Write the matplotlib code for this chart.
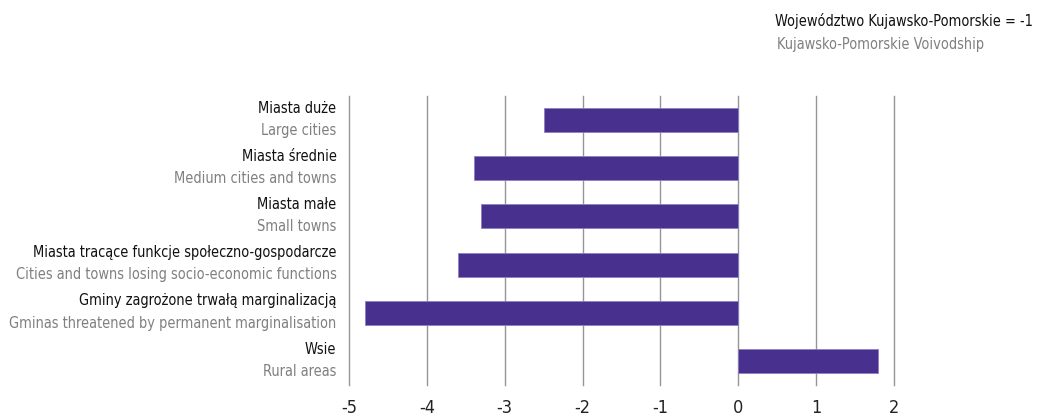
import matplotlib
matplotlib.use("Agg")
import matplotlib.pyplot as plt

plt.rcParams['font.family'] = ['DejaVu Sans']
plt.rcParams['font.stretch'] = 'condensed'

# dane
labels_pl = ["Miasta duże", "Miasta średnie", "Miasta małe",
             "Miasta tracące funkcje społeczno-gospodarcze",
             "Gminy zagrożone trwałą marginalizacją", "Wsie"]
labels_en = ["Large cities", "Medium cities and towns", "Small towns",
             "Cities and towns losing socio-economic functions",
             "Gminas threatened by permanent marginalisation", "Rural areas"]
values = [-2.5, -3.4, -3.3, -3.6, -4.8, 1.8]
xticks = [-5, -4, -3, -2, -1, 0, 1, 2]

fig = plt.figure(figsize=(10.44, 4.16), dpi=100)
ax = fig.add_axes([349 / 1044, 1 - 385 / 416, 545 / 1044, 289 / 416])

# rozmiar czcionki dobrany tak, by najdluzsza etykieta miala ~327 px
renderer = fig.canvas.get_renderer()
probe = fig.text(0, 0, labels_en[4], fontsize=12)
w = probe.get_window_extent(renderer).width
probe.remove()
fs = min(12.5, 12 * 327 / w)

ypos = list(range(len(values)))
ax.barh(ypos, values, height=0.5, color='#48308f', edgecolor='#8f80c0',
        linewidth=0.6, zorder=3)

ax.set_xlim(-5, 2)
ax.set_ylim(len(values) - 0.5, -0.5)
ax.set_xticks(xticks)
ax.set_xticklabels([str(t) for t in xticks], fontsize=13, color='#222222')
ax.set_yticks([])
ax.tick_params(axis='x', length=0, pad=10)
for s in ax.spines.values():
    s.set_visible(False)
for t in xticks:
    ax.axvline(t, color='#959595', linewidth=1, zorder=1, clip_on=False)

# etykiety kategorii (dwie linie)
for y, pl, en in zip(ypos, labels_pl, labels_en):
    ax.annotate(pl, xy=(0, y), xycoords=('axes fraction', 'data'),
                xytext=(-9, 8.5), textcoords='offset points',
                ha='right', va='center', fontsize=fs, color='#111111')
    ax.annotate(en, xy=(0, y), xycoords=('axes fraction', 'data'),
                xytext=(-9, -7.5), textcoords='offset points',
                ha='right', va='center', fontsize=fs, color='#808080')

fig.text(1033 / 1044, 1 - 21 / 416, "Województwo Kujawsko-Pomorskie = -1",
         ha='right', va='center', fontsize=fs, color='#111111')
fig.text(984 / 1044, 1 - 44 / 416, "Kujawsko-Pomorskie Voivodship",
         ha='right', va='center', fontsize=fs, color='#808080')

fig.savefig("out.png", dpi=100)
